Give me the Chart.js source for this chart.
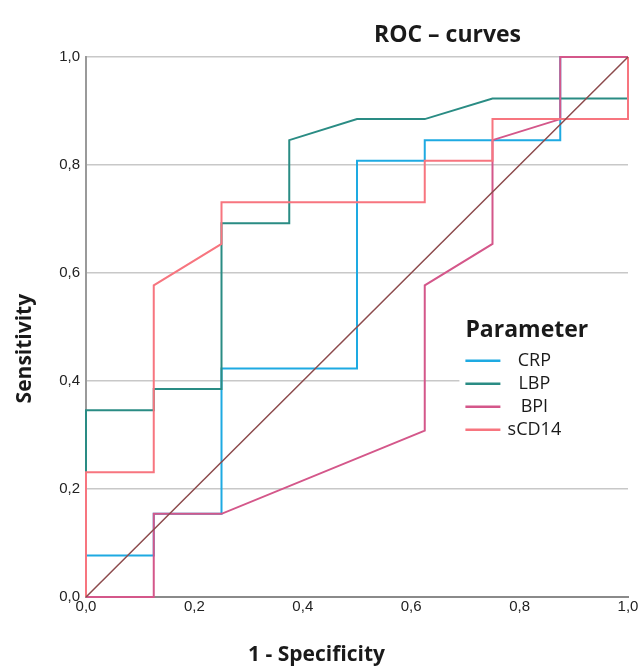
<!DOCTYPE html>
<html>
<head>
<meta charset="utf-8">
<script src="https://cdn.jsdelivr.net/npm/chart.js@4.4.1/dist/chart.umd.min.js"></script>
<style>
html,body{margin:0;padding:0;background:#fff;}
#wrap{width:640px;height:668px;position:relative;}
</style>
</head>
<body>
<div id="wrap"><canvas id="c" width="640" height="668"></canvas></div>
<script>
// ---- data (1 - specificity, sensitivity) ----
const seriesNames = ['CRP', 'LBP', 'BPI', 'sCD14'];
const crpX   = [0, 0, 0.125, 0.125, 0.25, 0.25, 0.5, 0.5, 0.625, 0.625, 0.875, 0.875, 0.875, 1];
const crpY   = [0, 0.077, 0.077, 0.154, 0.154, 0.423, 0.423, 0.808, 0.808, 0.846, 0.846, 0.885, 1, 1];
const lbpX   = [0, 0, 0.125, 0.125, 0.25, 0.25, 0.375, 0.375, 0.5, 0.625, 0.75, 1, 1];
const lbpY   = [0, 0.346, 0.346, 0.385, 0.385, 0.692, 0.692, 0.846, 0.885, 0.885, 0.923, 0.923, 1];
const bpiX   = [0, 0.125, 0.125, 0.25, 0.625, 0.625, 0.75, 0.75, 0.875, 0.875, 1];
const bpiY   = [0, 0, 0.154, 0.154, 0.308, 0.577, 0.654, 0.846, 0.885, 1, 1];
const scd14X = [0, 0, 0.125, 0.125, 0.25, 0.25, 0.625, 0.625, 0.75, 0.75, 1, 1];
const scd14Y = [0, 0.231, 0.231, 0.577, 0.654, 0.731, 0.731, 0.808, 0.808, 0.885, 0.885, 1];
const refX   = [0, 1];
const refY   = [0, 1];
const xTickLabels = ['0,0', '0,2', '0,4', '0,6', '0,8', '1,0'];
const yTickLabels = ['0,0', '0,2', '0,4', '0,6', '0,8', '1,0'];
const chartTitle = 'ROC \u2013 curves';
const xTitle = '1 - Specificity';
const yTitle = 'Sensitivity';
const legendTitle = 'Parameter';

const colors = ['#1eaae2', '#2a8c84', '#d4578a', '#f7757f'];
const refColor = '#8c4a4c';

function pts(xs, ys) { return xs.map((x, i) => ({x: x, y: ys[i]})); }

const seriesXs = [crpX, lbpX, bpiX, scd14X];
const seriesYs = [crpY, lbpY, bpiY, scd14Y];
const drawOrder = [4, 3, 2, 1];

const datasets = seriesNames.map((n, i) => ({
  label: n,
  data: pts(seriesXs[i], seriesYs[i]),
  showLine: true,
  borderColor: colors[i],
  backgroundColor: colors[i],
  borderWidth: 2,
  pointRadius: 0,
  tension: 0,
  clip: false,
  order: drawOrder[i]
}));
datasets.push({
  label: 'Reference',
  data: pts(refX, refY),
  showLine: true,
  borderColor: refColor,
  borderWidth: 1.5,
  pointRadius: 0,
  clip: false,
  order: 0
});

const font = '"Open Sans", "Noto Sans", sans-serif';

const textPlugin = {
  id: 'texts',
  afterDraw(chart) {
    const {ctx, chartArea: a} = chart;
    const w = a.right - a.left, h = a.bottom - a.top;
    ctx.save();
    ctx.fillStyle = '#1a1a1a';
    // chart title
    ctx.font = 'bold 23px ' + font;
    ctx.textAlign = 'center';
    ctx.textBaseline = 'middle';
    ctx.fillText(chartTitle, a.left + w * 0.667, a.top - 22);
    // x title
    ctx.font = 'bold 21px ' + font;
    ctx.textAlign = 'left';
    ctx.fillText(xTitle, a.left + w * 0.299, a.bottom + 58);
    // y title
    ctx.save();
    ctx.translate(25, a.top + h * 0.54);
    ctx.rotate(-Math.PI / 2);
    ctx.textAlign = 'center';
    ctx.fillText(yTitle, 0, 0);
    ctx.restore();

    // legend
    const lx = a.left + w * 0.70;
    const ly = a.top + h * 0.455;
    ctx.fillStyle = '#ffffff';
    ctx.fillRect(lx - 6, ly, a.right - lx + 6, 140);
    ctx.fillStyle = '#1a1a1a';
    ctx.font = 'bold 23px ' + font;
    ctx.textAlign = 'left';
    ctx.textBaseline = 'alphabetic';
    ctx.fillText(legendTitle, lx, ly + 34);
    ctx.font = '18px ' + font;
    ctx.textAlign = 'center';
    ctx.textBaseline = 'middle';
    seriesNames.forEach((n, i) => {
      const y = ly + 58 + i * 23;
      ctx.strokeStyle = colors[i];
      ctx.lineWidth = 2.5;
      ctx.beginPath();
      ctx.moveTo(lx, y);
      ctx.lineTo(lx + 35, y);
      ctx.stroke();
      ctx.fillStyle = '#1a1a1a';
      ctx.fillText(n, lx + 69, y);
    });
    ctx.restore();
  }
};

new Chart(document.getElementById('c'), {
  type: 'scatter',
  data: { datasets: datasets },
  options: {
    responsive: false,
    animation: false,
    devicePixelRatio: 1,
    layout: { padding: { top: 57, right: 12, left: 0, bottom: 0 } },
    plugins: { legend: { display: false }, tooltip: { enabled: false }, title: { display: false } },
    scales: {
      x: {
        type: 'linear', min: 0, max: 1,
        afterFit: (s) => { s.height = 71; },
        afterBuildTicks: (s) => { s.ticks = xTickLabels.map((_, i) => ({value: i * 0.2})); },
        ticks: {
          callback: (v, i) => xTickLabels[i],
          font: { family: '"Liberation Sans", Arial, sans-serif', size: 15 },
          color: '#222', padding: 1, maxRotation: 0, autoSkip: false
        },
        grid: { display: false, drawTicks: false },
        border: { display: true, color: '#8a8a8a', width: 2 }
      },
      y: {
        type: 'linear', min: 0, max: 1,
        afterFit: (s) => { s.width = 86; },
        afterBuildTicks: (s) => { s.ticks = yTickLabels.map((_, i) => ({value: i * 0.2})); },
        ticks: {
          callback: (v, i) => yTickLabels[i],
          font: { family: '"Liberation Sans", Arial, sans-serif', size: 15 },
          color: '#222', padding: 6, autoSkip: false
        },
        grid: { color: '#c8c8c8', lineWidth: 1.5, drawTicks: false },
        border: { display: true, color: '#9a9a9a', width: 2 }
      }
    }
  },
  plugins: [textPlugin]
});
</script>
</body>
</html>
